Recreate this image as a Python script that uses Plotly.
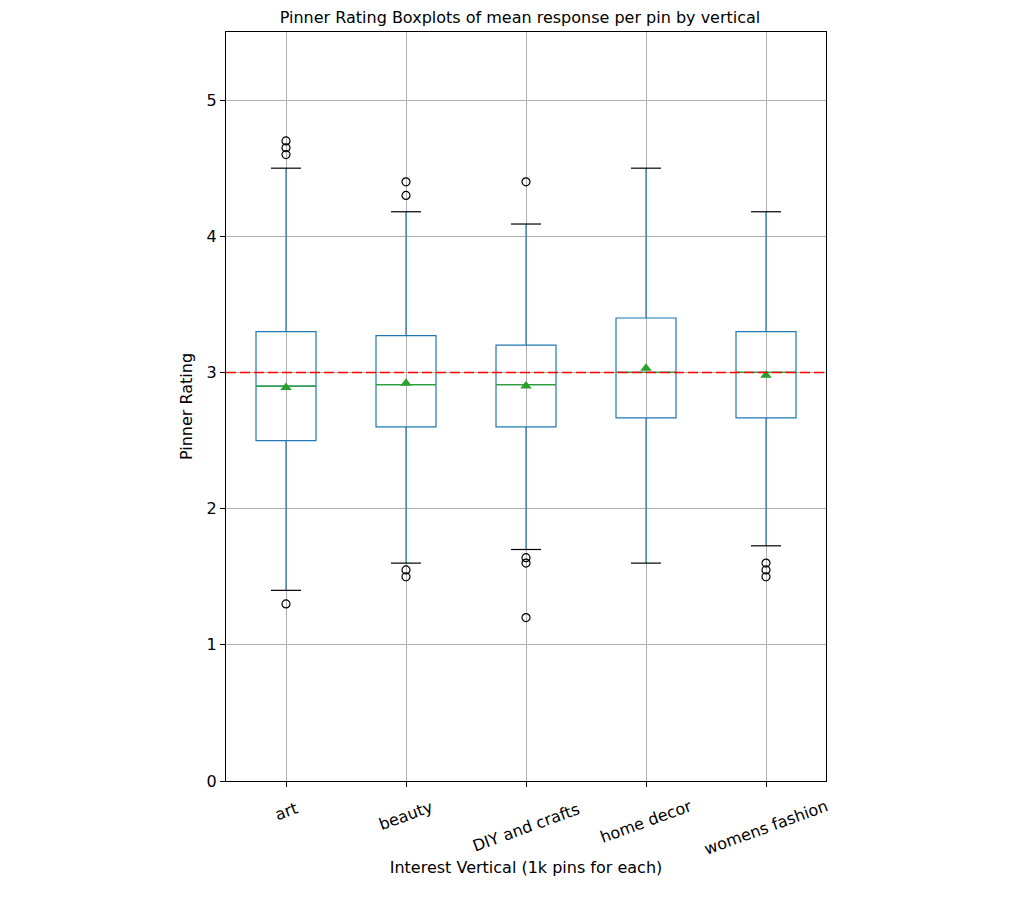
import plotly.graph_objects as go
import math

# Kategori dan statistik boxplot
verticals = ["art", "beauty", "DIY and crafts", "home decor", "womens fashion"]
q1 = [2.50, 2.60, 2.60, 2.667, 2.667]
median = [2.90, 2.91, 2.91, 3.00, 3.00]
q3 = [3.30, 3.27, 3.20, 3.40, 3.30]
mean = [2.89, 2.92, 2.90, 3.03, 2.98]
lower_whisker = [1.40, 1.60, 1.70, 1.60, 1.727]
upper_whisker = [4.50, 4.18, 4.09, 4.50, 4.18]
outliers = [
    [4.70, 4.65, 4.60, 1.30],
    [4.40, 4.30, 1.55, 1.50],
    [4.40, 1.64, 1.60, 1.20],
    [],
    [1.60, 1.55, 1.50],
]
reference_line = 3.0

blue = "#1f77b4"
green = "#2ca02c"
box_w = 0.5
cap_w = 0.25
fsize = 16
plot_h = 749  # tinggi area plot (px)

pos = list(range(1, len(verticals) + 1))

fig = go.Figure()

# Kotak + whisker
for i, name in enumerate(verticals):
    fig.add_trace(go.Box(
        x=[pos[i]],
        q1=[q1[i]], median=[median[i]], q3=[q3[i]],
        lowerfence=[lower_whisker[i]], upperfence=[upper_whisker[i]],
        width=box_w,
        whiskerwidth=0,
        line=dict(color=blue, width=1.2),
        fillcolor="rgba(0,0,0,0)",
        boxpoints=False,
        hoverinfo="skip",
        showlegend=False,
        name=name,
    ))

# Garis median (hijau)
mx, my = [], []
for p, m in zip(pos, median):
    mx += [p - box_w / 2, p + box_w / 2, None]
    my += [m, m, None]
fig.add_trace(go.Scatter(x=mx, y=my, mode="lines",
                         line=dict(color=green, width=1.2),
                         showlegend=False, hoverinfo="skip"))

# Cap whisker (hitam)
cx, cy = [], []
for p, lo, hi in zip(pos, lower_whisker, upper_whisker):
    cx += [p - cap_w / 2, p + cap_w / 2, None, p - cap_w / 2, p + cap_w / 2, None]
    cy += [lo, lo, None, hi, hi, None]
fig.add_trace(go.Scatter(x=cx, y=cy, mode="lines",
                         line=dict(color="black", width=1.2),
                         showlegend=False, hoverinfo="skip"))

# Outlier (lingkaran kosong)
ox, oy = [], []
for p, vals in zip(pos, outliers):
    ox += [p] * len(vals)
    oy += vals
fig.add_trace(go.Scatter(x=ox, y=oy, mode="markers",
                         marker=dict(symbol="circle-open", size=8,
                                     color="black", line=dict(width=1.2)),
                         showlegend=False))

# Mean (segitiga hijau)
fig.add_trace(go.Scatter(x=pos, y=mean, mode="markers",
                         marker=dict(symbol="triangle-up", size=10, color=green),
                         showlegend=False))

# Garis referensi merah putus-putus
fig.add_hline(y=reference_line, line=dict(color="red", width=1.6, dash="10px,4px"))

# Label kategori miring 20 derajat, rata tengah & rata atas seperti matplotlib
ang = math.radians(20)
for p, name in zip(pos, verticals):
    text_w = 8.6 * len(name)
    rot_h = text_w * math.sin(ang) + 19 * math.cos(ang)
    center_px = 17 + rot_h / 2  # jarak dari sumbu x ke tengah label
    fig.add_annotation(x=p, xref="x", y=-center_px / plot_h, yref="paper",
                       text=name, textangle=-20, showarrow=False,
                       xanchor="center", yanchor="middle",
                       font=dict(size=fsize, color="black"))

axis_common = dict(
    showline=True, linecolor="black", linewidth=1, mirror=True,
    showgrid=True, gridcolor="#b0b0b0", gridwidth=1,
    ticks="outside", ticklen=5, tickcolor="black",
    zeroline=False,
    tickfont=dict(size=fsize, color="black"),
)

fig.update_layout(
    width=1024, height=901,
    margin=dict(l=218, r=206, t=24, b=128),
    plot_bgcolor="white", paper_bgcolor="white",
    font=dict(family="DejaVu Sans", size=fsize, color="black"),
    title=dict(text="Pinner Rating Boxplots of mean response per pin by vertical",
               x=0.5, xanchor="center", y=0.99, yanchor="middle",
               font=dict(size=fsize)),
    xaxis=dict(axis_common, range=[0.5, 5.5], tickvals=pos, ticktext=verticals,
               showticklabels=False,
               title=dict(text="Interest Vertical (1k pins for each)",
                          standoff=75, font=dict(size=fsize))),
    yaxis=dict(axis_common, range=[0, 5.5], tickvals=[0, 1, 2, 3, 4, 5],
               title=dict(text="Pinner Rating", standoff=10, font=dict(size=fsize))),
)

fig.write_html("out.html")
